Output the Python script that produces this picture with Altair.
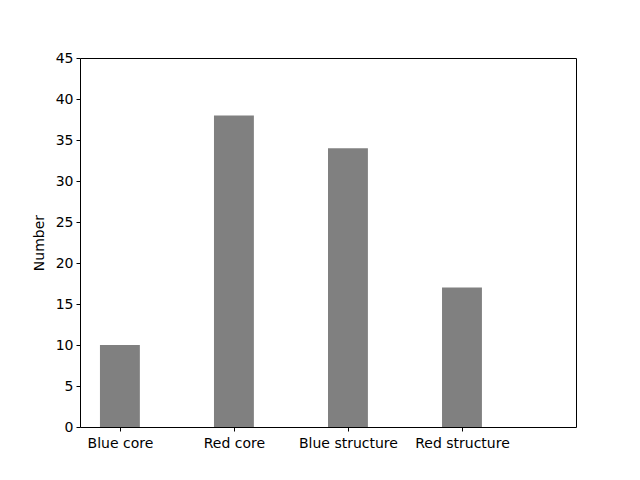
import altair as alt
import pandas as pd

categories = ["Blue core", "Red core", "Blue structure", "Red structure"]
values = [10, 38, 34, 17]
positions = [0, 1, 2, 3]
bar_half = 0.175

df = pd.DataFrame({"pos": positions, "cat": categories, "value": values})
df["x0"] = df["pos"] - bar_half
df["x1"] = df["pos"] + bar_half
df["base"] = 0

label_expr = " : ".join(
    [f"datum.value == {p} ? '{c}'" for p, c in zip(positions, categories)]
) + " : ''"

chart = alt.Chart(df).mark_bar(color="#808080").encode(
    x=alt.X("x0:Q", scale=alt.Scale(domain=[-0.35, 4.0], nice=False, zero=False, padding=0),
            axis=alt.Axis(values=positions, labelExpr=label_expr, title=None,
                          grid=False, tickSize=4, labelPadding=5, domain=False,
                          labelFontSize=14, labelFont="DejaVu Sans", labelColor="black",
                          tickColor="black")),
    x2="x1:Q",
    y=alt.Y("value:Q", scale=alt.Scale(domain=[0, 45], nice=False, padding=0),
            axis=alt.Axis(values=list(range(0, 50, 5)), title="Number", grid=False,
                          tickSize=4, labelPadding=3, domain=False,
                          labelFontSize=14, labelFont="DejaVu Sans", labelColor="black",
                          tickColor="black", titleFontSize=14, titleFont="DejaVu Sans",
                          titleFontWeight="normal", titleColor="black", titlePadding=9)),
    y2="base:Q",
).properties(
    width=496, height=369,
    autosize=alt.AutoSizeParams(type="none"),
    padding={"left": 72, "top": 50, "right": 56, "bottom": 45},
).configure_view(stroke="black", strokeWidth=1)

chart.save("out.html", embed_options={"renderer": "svg", "actions": False})
